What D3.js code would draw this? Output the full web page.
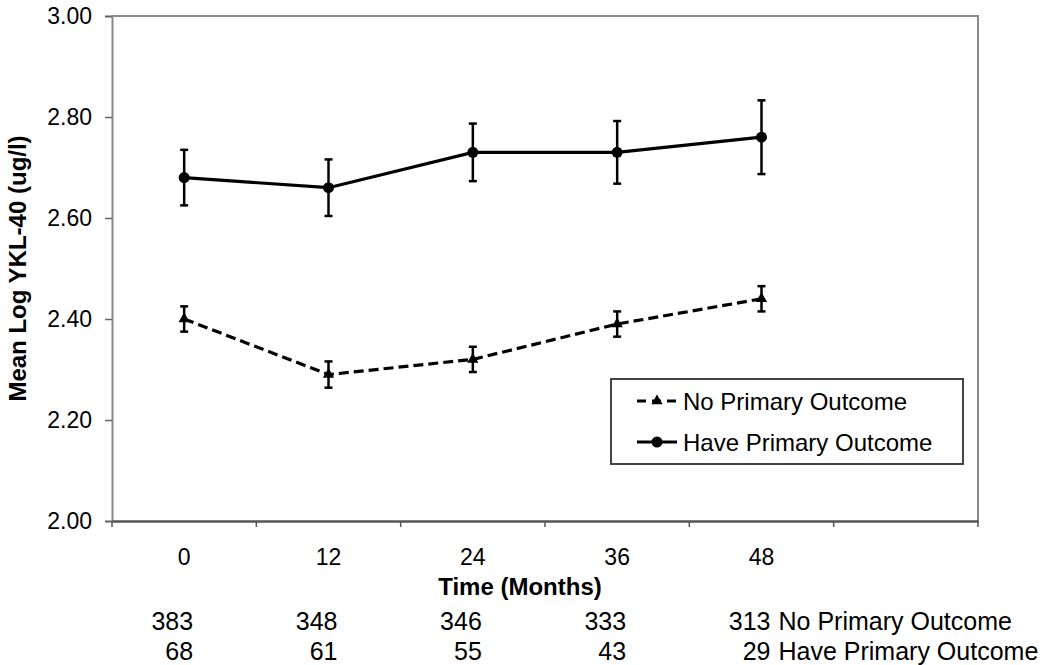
<!DOCTYPE html>
<html lang="en">
<head>
    <meta charset="UTF-8">
    <title>YKL-40 over time</title>
    <style>
        body { margin: 0; background: #fff; }
        text { font-family: "Liberation Sans", Arial, sans-serif; fill: #000; }
    </style>
</head>
<body>
    <svg id="chart"></svg>
    <script src="https://cdn.jsdelivr.net/npm/d3@7"></script>
    <script>
        // data
        const months = ["0", "12", "24", "36", "48"];
        const noOutcome = [2.40, 2.29, 2.32, 2.39, 2.44];
        const noOutcomeErr = [0.025, 0.026, 0.025, 0.025, 0.025];
        const haveOutcome = [2.68, 2.66, 2.73, 2.73, 2.76];
        const haveOutcomeErr = [0.055, 0.056, 0.057, 0.062, 0.073];
        const nNo = [383, 348, 346, 333, 313];
        const nHave = [68, 61, 55, 43, 29];
        const yTicks = [2.0, 2.2, 2.4, 2.6, 2.8, 3.0];
        const seriesNames = ["No Primary Outcome", "Have Primary Outcome"];

        const W = 1050, H = 665;
        const margin = { top: 16, right: 72, bottom: 144, left: 112 };
        const width = W - margin.left - margin.right;
        const height = H - margin.top - margin.bottom;

        const svg = d3.select("#chart").attr("width", W).attr("height", H);
        const g = svg.append("g").attr("transform", `translate(${margin.left},${margin.top})`);

        // one empty slot after 48, like the original axis
        const x = d3.scaleBand().domain(months.concat([""])).range([0, width]);
        const cx = d => x(d) + x.bandwidth() / 2;
        const y = d3.scaleLinear().domain([2, 3]).range([height, 0]);

        // frame (top / right)
        g.append("path")
            .attr("d", `M0,0H${width}V${height}`)
            .attr("fill", "none").attr("stroke", "#8a8a8a").attr("stroke-width", 2);

        // y axis
        const yAxis = g.append("g")
            .call(d3.axisLeft(y).tickValues(yTicks).tickFormat(d3.format(".2f")).tickSize(7).tickPadding(13));
        yAxis.select(".domain").attr("stroke", "#8a8a8a").attr("stroke-width", 2);
        yAxis.selectAll(".tick line").attr("stroke", "#666").attr("stroke-width", 1.5);
        yAxis.selectAll("text").style("font-size", "23px").style("font-family", "Liberation Sans, Arial, sans-serif");

        // x axis : labels at centres, ticks at band edges
        const xAxis = g.append("g").attr("transform", `translate(0,${height})`)
            .call(d3.axisBottom(x).tickSize(0).tickPadding(28));
        xAxis.select(".domain").attr("stroke", "#555").attr("stroke-width", 2.5);
        xAxis.selectAll("text").style("font-size", "23px").style("font-family", "Liberation Sans, Arial, sans-serif");
        g.append("g").selectAll("line")
            .data(x.domain().concat(["end"]))
            .enter().append("line")
            .attr("x1", (d, i) => i * x.step()).attr("x2", (d, i) => i * x.step())
            .attr("y1", height).attr("y2", height + 6)
            .attr("stroke", "#555").attr("stroke-width", 1.5);

        // axis titles
        svg.append("text")
            .attr("transform", `translate(26,${margin.top + height / 2}) rotate(-90)`)
            .attr("text-anchor", "middle")
            .style("font-size", "24px").style("font-weight", "bold")
            .text("Mean Log YKL-40 (ug/l)");
        svg.append("text")
            .attr("x", 520).attr("y", 595)
            .attr("text-anchor", "middle")
            .style("font-size", "24px").style("font-weight", "bold")
            .text("Time (Months)");

        const series = [
            { name: seriesNames[0], vals: noOutcome, err: noOutcomeErr, dash: "10,5", sym: d3.symbolTriangle, size: 55 },
            { name: seriesNames[1], vals: haveOutcome, err: haveOutcomeErr, dash: null, sym: d3.symbolCircle, size: 95 }
        ];

        const line = d3.line().x((d, i) => cx(months[i])).y(d => y(d));

        series.forEach(s => {
            const sg = g.append("g");
            // error bars
            const eb = sg.selectAll(".err").data(s.vals).enter().append("g").attr("class", "err");
            eb.append("line")
                .attr("x1", (d, i) => cx(months[i])).attr("x2", (d, i) => cx(months[i]))
                .attr("y1", (d, i) => y(d + s.err[i])).attr("y2", (d, i) => y(d - s.err[i]))
                .attr("stroke", "#000").attr("stroke-width", 2.5);
            [1, -1].forEach(sign => {
                eb.append("line")
                    .attr("x1", (d, i) => cx(months[i]) - 4).attr("x2", (d, i) => cx(months[i]) + 4)
                    .attr("y1", (d, i) => y(d + sign * s.err[i])).attr("y2", (d, i) => y(d + sign * s.err[i]))
                    .attr("stroke", "#000").attr("stroke-width", 2.5);
            });
            sg.append("path")
                .attr("d", line(s.vals))
                .attr("fill", "none").attr("stroke", "#000").attr("stroke-width", 3.2)
                .attr("stroke-dasharray", s.dash);
            sg.selectAll(".pt").data(s.vals).enter().append("path")
                .attr("class", "pt")
                .attr("transform", (d, i) => `translate(${cx(months[i])},${y(d)})`)
                .attr("d", d3.symbol(s.sym, s.size))
                .attr("fill", "#000");
        });

        // legend
        const lg = svg.append("g").attr("transform", "translate(611,379)");
        lg.append("rect").attr("width", 352).attr("height", 85)
            .attr("fill", "#fff").attr("stroke", "#444").attr("stroke-width", 2);
        series.forEach((s, i) => {
            const ry = 22 + i * 41;
            lg.append("line").attr("x1", 26).attr("x2", 66).attr("y1", ry).attr("y2", ry)
                .attr("stroke", "#000").attr("stroke-width", 3)
                .attr("stroke-dasharray", s.dash ? "9,6" : null);
            lg.append("path").attr("transform", `translate(46,${ry})`)
                .attr("d", d3.symbol(s.sym, s.size)).attr("fill", "#000");
            lg.append("text").attr("x", 72).attr("y", ry + 8.5)
                .style("font-size", "24px").text(s.name);
        });

        // numbers at risk table
        const rows = [{ n: nNo, label: seriesNames[0], yb: 630 }, { n: nHave, label: seriesNames[1], yb: 660 }];
        rows.forEach(r => {
            svg.append("g").selectAll("text").data(r.n).enter().append("text")
                .attr("x", (d, i) => margin.left + cx(months[i]) + 9)
                .attr("y", r.yb)
                .attr("text-anchor", "end")
                .style("font-size", "25px")
                .text(d => d);
            svg.append("text")
                .attr("x", margin.left + cx(months[months.length - 1]) + 17)
                .attr("y", r.yb)
                .style("font-size", "25px")
                .text(r.label);
        });
    </script>
</body>
</html>
